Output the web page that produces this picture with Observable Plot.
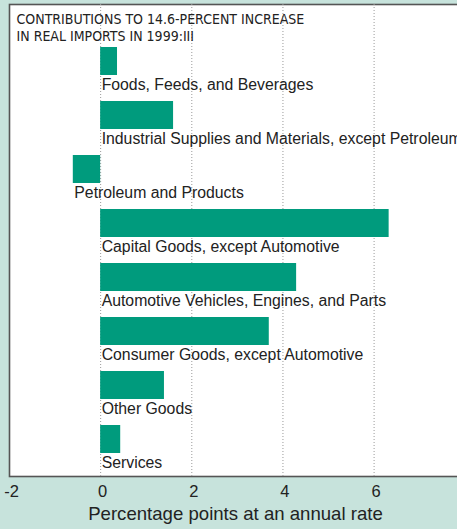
<!DOCTYPE html>
<html>
<head>
<meta charset="utf-8">
<script src="https://cdn.jsdelivr.net/npm/d3@7"></script>
<script src="https://cdn.jsdelivr.net/npm/@observablehq/plot@0.6"></script>
<style>
  html, body { margin: 0; padding: 0; background: #c7e3dc; }
  #chart { width: 457px; height: 529px; overflow: hidden; }
  g[aria-label="title"] text { letter-spacing: 1.05px; }
</style>
</head>
<body>
<div id="chart"></div>
<script>
const categories = [
  "Foods, Feeds, and Beverages",
  "Industrial Supplies and Materials, except Petroleum",
  "Petroleum and Products",
  "Capital Goods, except Automotive",
  "Automotive Vehicles, Engines, and Parts",
  "Consumer Goods, except Automotive",
  "Other Goods",
  "Services"
];
const values = [0.37, 1.6, -0.6, 6.33, 4.3, 3.7, 1.4, 0.44];
const xTicks = [-2, 0, 2, 4, 6];
const gridValues = [0, 2, 4, 6];
const titleText = "CONTRIBUTIONS TO 14.6-PERCENT INCREASE\nIN REAL IMPORTS IN 1999:III";
const axisLabel = "Percentage points at an annual rate";

const data = categories.map((c, i) => ({category: c, value: values[i]}));

const chart = Plot.plot({
  width: 457,
  height: 529,
  marginLeft: 9,
  marginRight: 0,
  marginTop: 41,
  marginBottom: 56,
  style: {background: "transparent", fontFamily: "'Liberation Sans', Arial, Helvetica, sans-serif", color: "#222"},
  x: {domain: [-2, 7.83]},
  y: {domain: categories, padding: 0, axis: null},
  marks: [
    Plot.frame({fill: "white", stroke: "#555", strokeWidth: 1.6, insetTop: -37, insetBottom: -3, insetRight: -6}),
    Plot.ruleX(gridValues, {stroke: "#9a9a9a", strokeWidth: 1, strokeDasharray: "1,2", insetTop: -37, insetBottom: -3}),
    Plot.barX(data, {x: "value", y: "category", fill: "#009b7d", insetTop: 6, insetBottom: 20}),
    Plot.text(data, {x: d => Math.min(0, d.value), y: "category", text: "category", textAnchor: "start", dx: 1, dy: 16, fontSize: 15.8, fill: "#222"}),
    Plot.text([titleText], {frameAnchor: "top-left", dx: 7, dy: -29, lineAnchor: "top", lineHeight: 1.19, textAnchor: "start", fontSize: 14, fill: "#222", fontFamily: "'Liberation Sans Narrow', 'DejaVu Sans Condensed', sans-serif", ariaLabel: "title"}),
    Plot.axisX({ticks: xTicks, tickSize: 0, tickPadding: 12, fontSize: 16.5, tickFormat: d => String(d), label: null, fill: "#222", dx: 2}),
    Plot.text([axisLabel], {frameAnchor: "bottom", dy: 46, fontSize: 18.6, fill: "#222", dx: 2})
  ]
});
document.getElementById("chart").appendChild(chart);
</script>
</body>
</html>
